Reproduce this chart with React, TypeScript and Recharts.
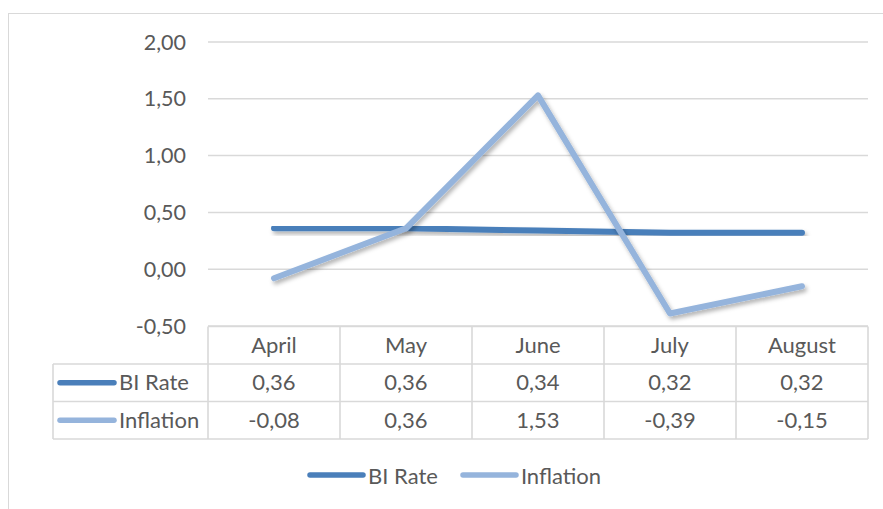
import React from 'react';
import { LineChart, Line, XAxis, YAxis, CartesianGrid } from 'recharts';

const months = ['April', 'May', 'June', 'July', 'August'];
const biRate = [0.36, 0.36, 0.34, 0.32, 0.32];
const inflation = [-0.08, 0.36, 1.53, -0.39, -0.15];
const yTicks = [-0.5, 0, 0.5, 1, 1.5, 2];
const seriesNames = ['BI Rate', 'Inflation'];
const seriesKeys = ['bi', 'inf'];
const seriesColors = ['#4a7fba', '#95b4dc'];

const data = months.map((m, i) => ({ month: m, bi: biRate[i], inf: inflation[i] }));

const FONT = 'Lato, "Liberation Sans", sans-serif';
const TEXT = '#595959';
const BORDER = '#d9d9d9';
const CELL = 132;
const ROW = 37.5;
const LEFT_COL = 53;
const FS = 22;

const fmt = (v: number) => v.toFixed(2).replace('.', ',');

const TableTick = (props: any) => {
  const { x, y, payload, index } = props;
  const i = months.indexOf(payload.value);
  const half = CELL / 2;
  const top = y + 0.5;
  const els: any[] = [];
  els.push(<line key="vr" x1={x + half} x2={x + half} y1={top} y2={top + ROW * 3} stroke={BORDER} strokeWidth={1.6} />);
  if (index === 0) {
    const left = x - half;
    const right = left + CELL * months.length;
    els.push(<line key="vl" x1={left} x2={left} y1={top} y2={top + ROW * 3} stroke={BORDER} strokeWidth={1.6} />);
    els.push(<line key="vl2" x1={LEFT_COL} x2={LEFT_COL} y1={top + ROW} y2={top + ROW * 3} stroke={BORDER} strokeWidth={1.6} />);
    els.push(<line key="h0" x1={left} x2={right} y1={top} y2={top} stroke={BORDER} strokeWidth={1.6} />);
    for (let r = 1; r <= 3; r++) {
      els.push(<line key={'h' + r} x1={LEFT_COL} x2={right} y1={top + ROW * r} y2={top + ROW * r} stroke={BORDER} strokeWidth={1.6} />);
    }
    seriesNames.forEach((name, s) => {
      const cy = top + ROW * (s + 1) + ROW / 2;
      els.push(<line key={'ll' + s} x1={60} x2={114} y1={cy} y2={cy} stroke={seriesColors[s]} strokeWidth={5.5} strokeLinecap="round" />);
      els.push(<text key={'lt' + s} x={119} y={cy - 1} dominantBaseline="central" fill={TEXT} fontSize={FS} fontFamily={FONT}>{name}</text>);
    });
  }
  els.push(<text key="hd" x={x} y={top + ROW / 2 - 1} textAnchor="middle" dominantBaseline="central" fill={TEXT} fontSize={FS} fontFamily={FONT}>{payload.value}</text>);
  const vals = [biRate[i], inflation[i]];
  vals.forEach((v, s) => {
    els.push(<text key={'v' + s} x={x} y={top + ROW * (s + 1) + ROW / 2 - 1} textAnchor="middle" dominantBaseline="central" fill={TEXT} fontSize={FS} fontFamily={FONT}>{fmt(v)}</text>);
  });
  return <g>{els}</g>;
};

export default function App() {
  return (
    <div style={{ position: 'absolute', left: 0, top: 0, width: 883, height: 509, overflow: 'hidden', background: '#fff', fontFamily: FONT }}>
      <svg width={0} height={0} style={{ position: 'absolute' }}>
        <defs>
          <filter id="shadow" x="-10%" y="-50%" width="120%" height="200%">
            <feDropShadow dx="2" dy="3" stdDeviation="2" floodColor="#000" floodOpacity="0.3" />
          </filter>
        </defs>
      </svg>
      <div style={{ position: 'absolute', left: 8, top: 13, width: 1000, height: 1000, borderTop: `1.6px solid ${BORDER}`, borderLeft: `1.6px solid ${BORDER}` }} />
      <div style={{ position: 'absolute', left: 0, top: 0 }}>
        <LineChart width={883} height={509} data={data} margin={{ top: 42, right: 15, bottom: 63, left: 128 }}>
          <CartesianGrid vertical={false} stroke={BORDER} strokeWidth={1.5} />
          <XAxis
            dataKey="month"
            padding={{ left: CELL / 2, right: CELL / 2 }}
            axisLine={false}
            tickLine={false}
            tickSize={0}
            tickMargin={0}
            height={120}
            interval={0}
            tick={<TableTick />}
          />
          <YAxis
            domain={[-0.5, 2]}
            ticks={yTicks}
            width={80}
            axisLine={false}
            tickLine={false}
            tickSize={6}
            tickMargin={16}
            tickFormatter={fmt}
            tick={{ fill: TEXT, fontSize: 21.5, fontFamily: FONT }}
            interval={0}
          />
          {seriesKeys.map((k, s) => (
            <Line
              key={k}
              dataKey={k}
              name={seriesNames[s]}
              stroke={seriesColors[s]}
              strokeWidth={6}
              strokeLinecap="round"
              strokeLinejoin="round"
              dot={false}
              activeDot={false}
              isAnimationActive={false}
              filter="url(#shadow)"
            />
          ))}
        </LineChart>
      </div>
      <div style={{ position: 'absolute', top: 462, left: 306, display: 'flex', alignItems: 'center', height: 26, color: TEXT, fontSize: FS }}>
        {seriesNames.map((name, s) => (
          <div key={name} style={{ display: 'flex', alignItems: 'center', marginRight: s === 0 ? 21 : 0 }}>
            <svg width={60} height={10}>
              <line x1={4} x2={57} y1={5} y2={5} stroke={seriesColors[s]} strokeWidth={5.5} strokeLinecap="round" />
            </svg>
            <span style={{ marginLeft: 2 }}>{name}</span>
          </div>
        ))}
      </div>
    </div>
  );
}
